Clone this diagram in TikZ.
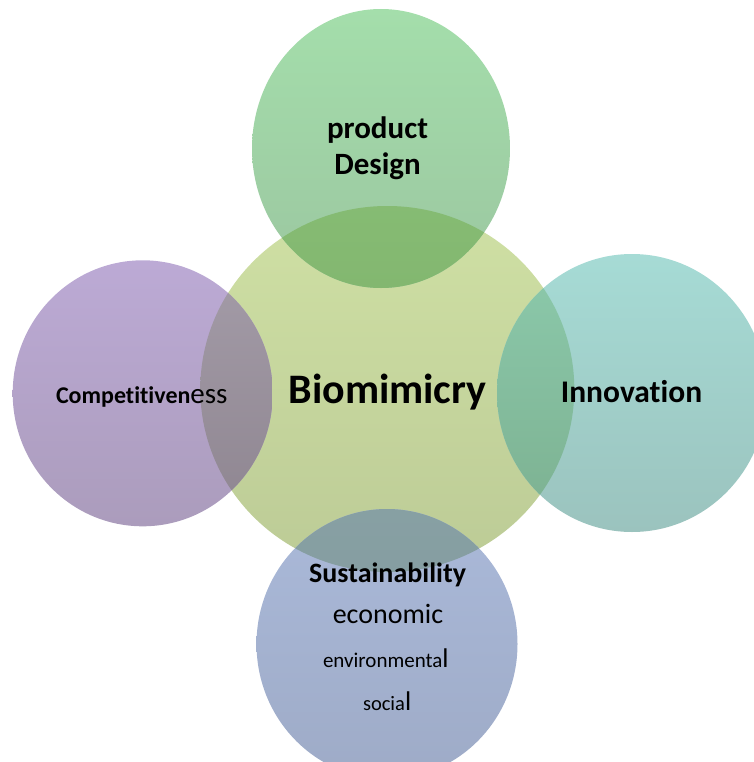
\documentclass[tikz,border=0pt]{standalone}
\usepackage{fontspec}
\setmainfont{Carlito}[Ligatures=CommonOff]
\begin{document}
\begin{tikzpicture}[x=1pt,y=-1pt,
  lbl/.style={inner sep=0pt,outer sep=0pt,text=black,align=center}]
\useasboundingbox (0,0) rectangle (753,762);
% ellipse centres
\coordinate (C) at (387.3,389);
\coordinate (T) at (381,148.5);
\coordinate (L) at (142.7,393.3);
\coordinate (R) at (632,393);
\coordinate (B) at (387,644);
\def\Cshape{(C) ellipse [x radius=187pt, y radius=183pt]}
\def\Tshape{(T) ellipse [x radius=129pt, y radius=139.5pt]}
\def\Lshape{(L) ellipse [x radius=130pt, y radius=133pt]}
\def\Rshape{(R) ellipse [x radius=135pt, y radius=139pt]}
\def\Bshape{(B) ellipse [x radius=130.5pt, y radius=135pt]}
% plain discs
\shade[top color={rgb,255:red,207;green,224;blue,164}, bottom color={rgb,255:red,188;green,203;blue,150}] \Cshape;
\shade[top color={rgb,255:red,164;green,222;blue,171}, bottom color={rgb,255:red,155;green,198;blue,160}] \Tshape;
\shade[top color={rgb,255:red,188;green,170;blue,213}, bottom color={rgb,255:red,171;green,156;blue,188}] \Lshape;
\shade[top color={rgb,255:red,166;green,219;blue,213}, bottom color={rgb,255:red,155;green,195;blue,190}] \Rshape;
\shade[top color={rgb,255:red,170;green,185;blue,217}, bottom color={rgb,255:red,158;green,171;blue,199}] \Bshape;
% overlaps with the central disc
\begin{scope}
  \clip \Cshape;
  \shade[top color={rgb,255:red,140;green,198;blue,122}, bottom color={rgb,255:red,131;green,183;blue,112}] \Tshape;
  \shade[top color={rgb,255:red,164;green,156;blue,168}, bottom color={rgb,255:red,142;green,133;blue,144}] \Lshape;
  \shade[top color={rgb,255:red,140;green,202;blue,172}, bottom color={rgb,255:red,124;green,176;blue,144}] \Rshape;
  \shade[top color={rgb,255:red,135;green,160;blue,163}, bottom color={rgb,255:red,130;green,150;blue,158}] \Bshape;
\end{scope}
% labels
\node[lbl,anchor=base,font=\bfseries\fontsize{42}{50}\selectfont] (bio) at (387.5,403) {Biomimicry};
\node[lbl,anchor=base,font=\bfseries\fontsize{31.5}{36}\selectfont] (inno) at (631.5,402) {Innovation};
\node[lbl,anchor=base,font=\bfseries\fontsize{31}{36}\selectfont] (prod) at (377.5,139) {product};
\node[lbl,anchor=base,font=\bfseries\fontsize{31}{36}\selectfont] (des) at (377.5,175) {Design};
\node[lbl,anchor=base west] (comp) at (56,403)
  {{\bfseries\fontsize{24}{28}\selectfont Competitiven}{\fontsize{29}{34}\selectfont ess}};
\node[lbl,anchor=base,font=\bfseries\fontsize{28}{34}\selectfont] (sus) at (387.5,582) {Sustainability};
\node[lbl,anchor=base,font=\fontsize{28}{34}\selectfont] (eco) at (388,623) {economic};
\node[lbl,anchor=base west] (env) at (323,667)
  {{\fontsize{21}{25}\selectfont environmenta}{\fontsize{27}{32}\selectfont l}};
\node[lbl,anchor=base west] (soc) at (363,710)
  {{\fontsize{20.5}{25}\selectfont socia}{\fontsize{27}{32}\selectfont l}};
\end{tikzpicture}
\end{document}
